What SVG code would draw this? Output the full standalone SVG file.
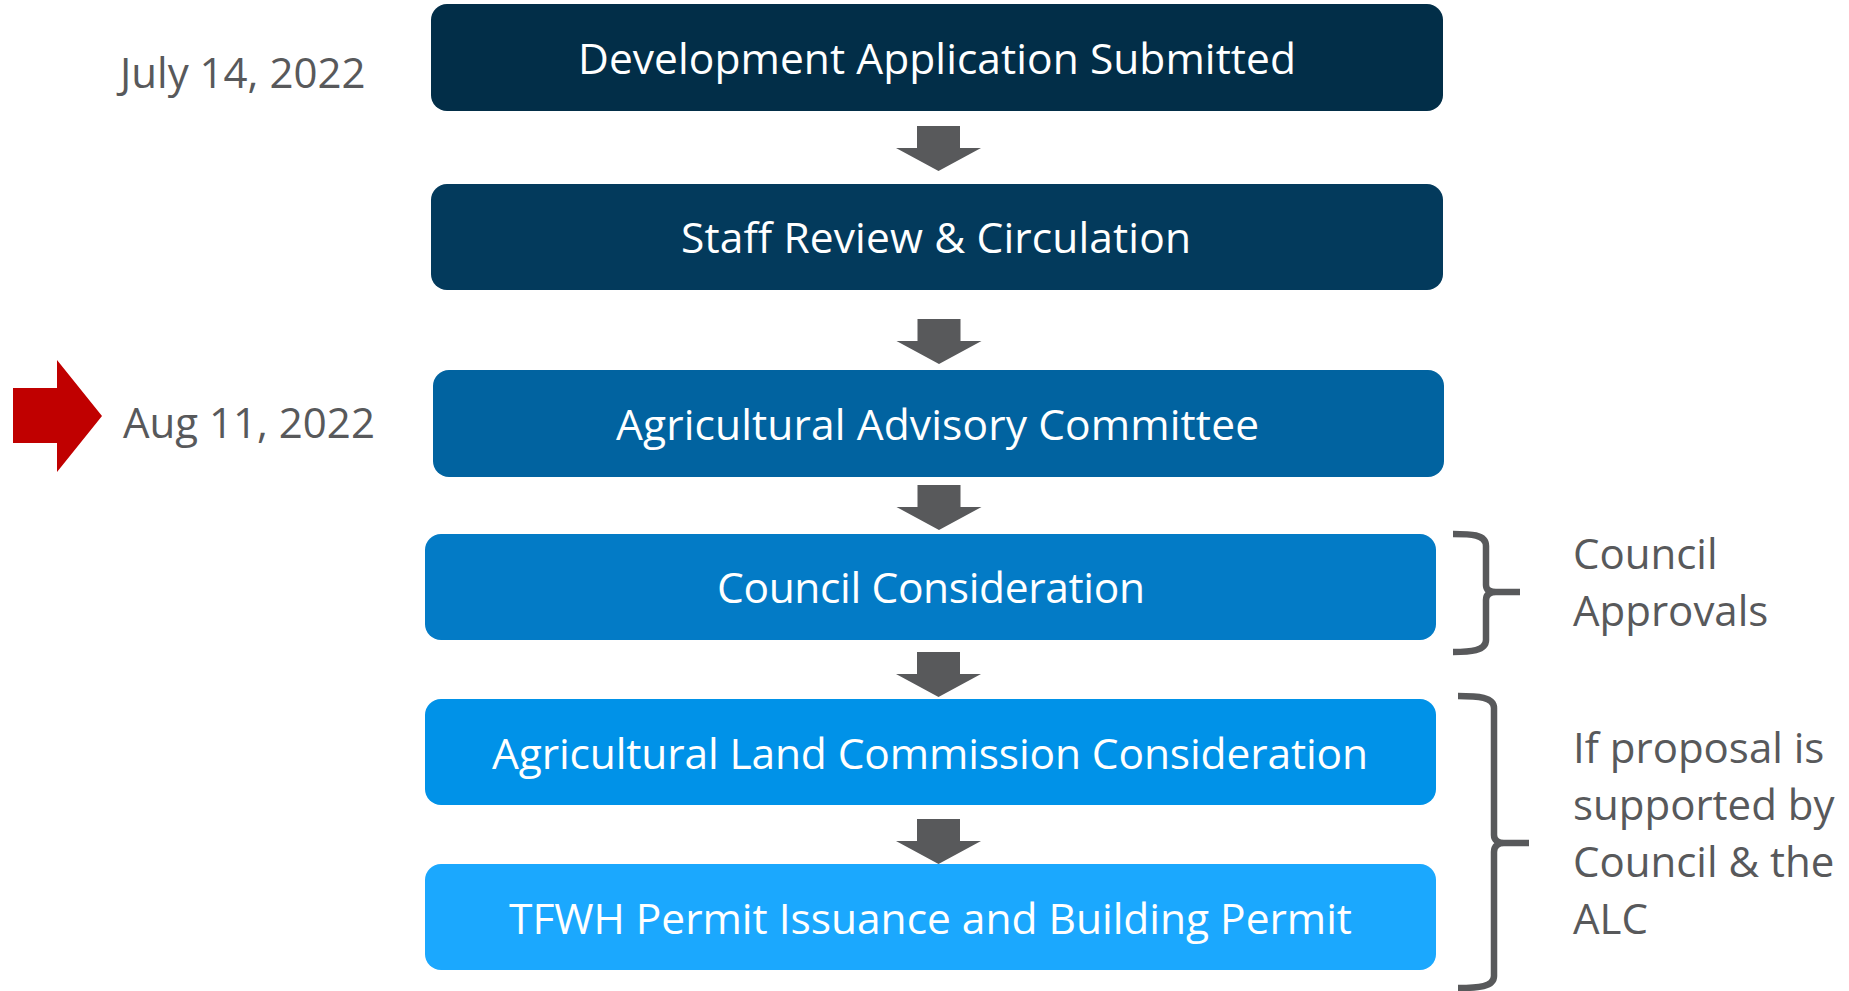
<svg xmlns="http://www.w3.org/2000/svg" width="1849" height="991" viewBox="0 0 1849 991">
<style>
  .box{stroke:none}
  .bt{font-family:"Open Sans","Liberation Sans",sans-serif;font-size:42.5px;fill:#ffffff;text-anchor:middle}
  .side{font-family:"Open Sans","Liberation Sans",sans-serif;font-size:42px;fill:#58595B}
  .brace{fill:none;stroke:#58595B;stroke-width:6.5;stroke-linejoin:miter}
  .flow{fill:#58595B}
</style>
<defs>
  <polygon id="down" points="-21.5,0 21.5,0 21.5,22 42.5,22 0,45 -42.5,22 -21.5,22"/>
</defs>
<rect width="1849" height="991" fill="#ffffff"/>

<g id="date1">
  <text class="side" x="120" y="88">July 14, 2022</text>
</g>
<g id="date2">
  <polygon points="13,388 57,388 57,360 102,416 57,472 57,443 13,443" fill="#C00000"/>
  <text class="side" x="123" y="438">Aug 11, 2022</text>
</g>

<g id="n1">
  <rect class="box" x="431" y="4" width="1012" height="107" rx="16" fill="#022E48"/>
  <text class="bt" x="937" y="74" textLength="718">Development Application Submitted</text>
</g>
<g id="n2">
  <rect class="box" x="431" y="184" width="1012" height="106" rx="16" fill="#033A5C"/>
  <text class="bt" x="936" y="253" textLength="510">Staff Review &amp; Circulation</text>
</g>
<g id="n3">
  <rect class="box" x="433" y="370" width="1011" height="107" rx="16" fill="#0163A0"/>
  <text class="bt" x="937.5" y="440" textLength="643">Agricultural Advisory Committee</text>
</g>
<g id="n4">
  <rect class="box" x="425" y="534" width="1011" height="106" rx="16" fill="#037BC6"/>
  <text class="bt" x="931" y="603" textLength="428">Council Consideration</text>
</g>
<g id="n5">
  <rect class="box" x="425" y="699" width="1011" height="106" rx="16" fill="#0092E8"/>
  <text class="bt" x="930" y="769" textLength="876">Agricultural Land Commission Consideration</text>
</g>
<g id="n6">
  <rect class="box" x="425" y="864" width="1011" height="106" rx="16" fill="#1BA8FE"/>
  <text class="bt" x="930.5" y="934" textLength="843">TFWH Permit Issuance and Building Permit</text>
</g>

<g id="connectors" class="flow">
  <use href="#down" x="938.5" y="126"/>
  <use href="#down" x="939" y="319"/>
  <use href="#down" x="939" y="485"/>
  <use href="#down" x="938.5" y="652"/>
  <use href="#down" x="938.5" y="819"/>
</g>

<g id="brace1">
  <path class="brace" d="M1453,534 C1470,534 1486,534 1486,546 L1486,585 C1486,590 1490,592 1496,592 L1520,592 M1496,592 C1490,592 1486,594 1486,600 L1486,640 C1486,651 1470,652 1453,652"/>
  <text class="side" x="1573" y="569">Council</text>
  <text class="side" x="1573" y="626">Approvals</text>
</g>
<g id="brace2">
  <path class="brace" d="M1458,696 C1478,696 1494,697 1494,708 L1494,835 C1494,840 1498,843 1504,843 L1529,843 M1504,843 C1498,843 1494,846 1494,852 L1494,976 C1494,987 1478,988 1458,988"/>
  <text class="side" x="1573" y="763">If proposal is</text>
  <text class="side" x="1573" y="820">supported by</text>
  <text class="side" x="1573" y="877">Council &amp; the</text>
  <text class="side" x="1573" y="934">ALC</text>
</g>
</svg>
